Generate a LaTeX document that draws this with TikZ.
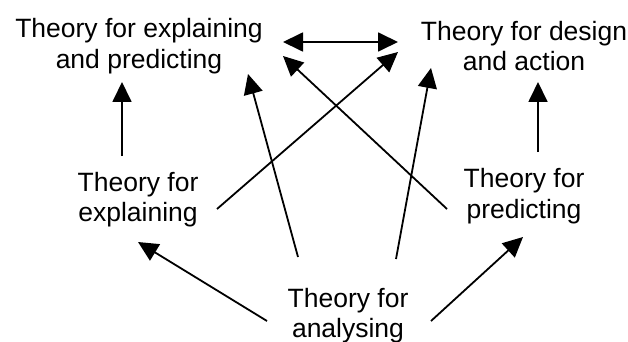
\documentclass[tikz,border=0pt]{standalone}
\usepackage{fontspec}
\setmainfont{Liberation Sans}
\usetikzlibrary{arrows.meta,calc}
\begin{document}
\begin{tikzpicture}[x=1pt,y=-1pt,
  lbl/.style={align=center,inner sep=0pt,font=\fontsize{26.5pt}{30.5pt}\selectfont},
  conn/.style={line width=1.8pt,-{Triangle[length=20pt,width=19pt]}},
  bconn/.style={line width=1.8pt,{Triangle[length=20pt,width=19pt]}-{Triangle[length=20pt,width=19pt]}}]
\useasboundingbox (0,0) rectangle (628,342);
\node[lbl] (EP) at (139,46) {Theory for explaining\\and predicting};
\node[lbl] (DA) at (524,46) {Theory for design\\and action};
\node[lbl] (E) at (138,199.5) {Theory for\\explaining};
\node[lbl] (P) at (524,196) {Theory for\\predicting};
\node[lbl] (A) at (348,315.5) {Theory for\\analysing};
\draw[conn] ($(E)+(-16,-43.5)$) -- ($(EP)+(-17,36)$);
\draw[conn] ($(P)+(14,-44)$) -- ($(DA)+(14,36)$);
\draw[bconn] ($(EP)+(144,-4)$) -- ($(DA)+(-126,-4)$);
\draw[conn] ($(E)+(79,9.5)$) -- ($(DA)+(-126,6)$);
\draw[conn] ($(P)+(-77,13)$) -- ($(EP)+(144,10)$);
\draw[conn] ($(A)+(-50,-58.5)$) -- ($(EP)+(109,28)$);
\draw[conn] ($(A)+(48,-56.5)$) -- ($(DA)+(-93,22)$);
\draw[conn] ($(A)+(-81,5.5)$) -- ($(E)+(0,42.5)$);
\draw[conn] ($(A)+(83,5.5)$) -- ($(P)+(-1,41)$);
\end{tikzpicture}
\end{document}
